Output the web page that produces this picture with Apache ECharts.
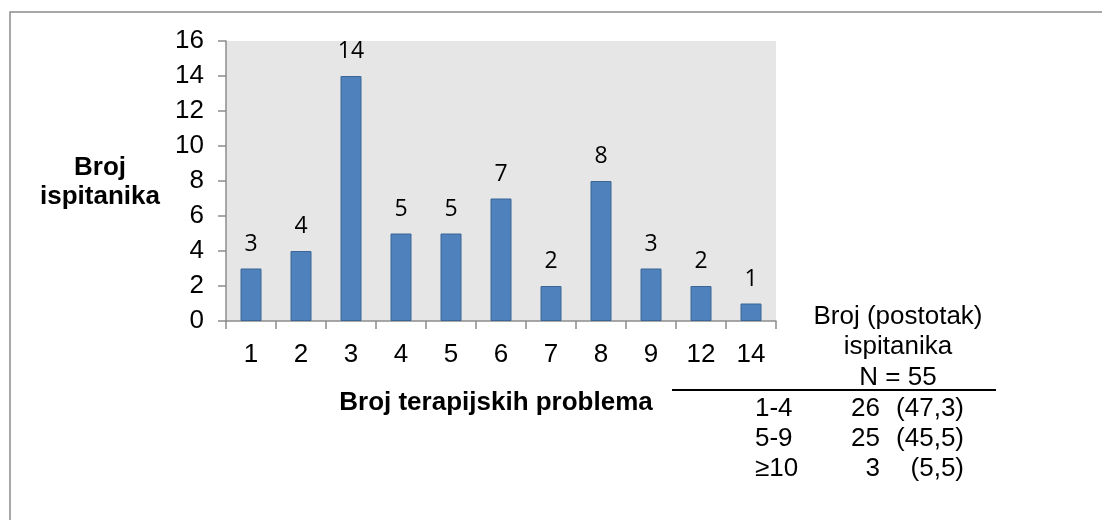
<!DOCTYPE html>
<html lang="hr">
<head>
<meta charset="UTF-8">
<title>Broj terapijskih problema</title>
<script src="https://cdn.jsdelivr.net/npm/echarts@6/dist/echarts.min.js"></script>
<style>
  html, body { margin: 0; padding: 0; background: #fff; }
  #chart { width: 1102px; height: 520px; }
</style>
</head>
<body>
<div id="chart"></div>
<script>
    // broj terapijskih problema po ispitaniku
    var categories = ['1', '2', '3', '4', '5', '6', '7', '8', '9', '12', '14'];
    var counts = [3, 4, 14, 5, 5, 7, 2, 8, 3, 2, 1];

    // mala tablica desno
    var tableRanges = ['1-4', '5-9', '≥10'];
    var tableCounts = ['26', '25', '3'];
    var tablePercents = ['(47,3)', '(45,5)', '(5,5)'];

    var txt = '#000';
    var font = 'Arial, "Liberation Sans", sans-serif';
    var fs = 26;

    // tekst centriran okomito oko y
    function label(text, x, y, align, bold) {
        return { type: 'text', x: x, y: y, silent: true,
                 style: { text: text, font: (bold ? 'bold ' : '') + fs + 'px ' + font, fill: txt,
                          align: align, verticalAlign: 'middle' } };
    }

    var graphics = [
        // okvir
        { type: 'rect', shape: { x: 10, y: 12, width: 1200, height: 600 },
          style: { fill: 'none', stroke: '#8c8c8c', lineWidth: 1.5 }, silent: true },
        // naslov osi y
        label('Broj', 100, 168, 'center', true),
        label('ispitanika', 100, 197, 'center', true),
        // naslov osi x
        label('Broj terapijskih problema', 496, 403, 'center', true),
        // naslov tablice
        label('Broj (postotak)', 898, 317, 'center'),
        label('ispitanika', 898, 347, 'center'),
        label('N = 55', 898, 378, 'center'),
        { type: 'line', shape: { x1: 672, y1: 390, x2: 996, y2: 390 },
          style: { stroke: '#000', lineWidth: 2 } }
    ];

    tableRanges.forEach(function (r, i) {
        var y = 409 + i * 30;
        graphics.push(label(r, 755, y, 'left'));
        graphics.push(label(tableCounts[i], 880, y, 'right'));
        graphics.push(label(tablePercents[i], 964, y, 'right'));
    });

    var mCharts = echarts.init(document.getElementById('chart'));
    var option = {
        animation: false,
        grid: {
            left: 226, top: 41, width: 550, height: 280,
            show: true, backgroundColor: '#e6e6e6', borderWidth: 0
        },
        xAxis: {
            type: 'category',
            data: categories,
            axisLine: { lineStyle: { color: '#8c8c8c', width: 1.5 } },
            axisTick: { show: true, length: 8, alignWithLabel: false, lineStyle: { color: '#8c8c8c', width: 1.5 } },
            axisLabel: { fontFamily: font, fontSize: fs, color: txt, margin: 21 }
        },
        yAxis: {
            type: 'value',
            min: 0, max: 16, interval: 2,
            axisLine: { show: true, lineStyle: { color: '#8c8c8c', width: 1.5 } },
            axisTick: { show: true, length: 8, lineStyle: { color: '#8c8c8c', width: 1.5 } },
            splitLine: { show: false },
            axisLabel: { fontFamily: font, fontSize: fs, color: txt, margin: 22 }
        },
        series: [{
            type: 'bar',
            data: counts,
            barWidth: 21,
            itemStyle: { color: '#4f81bd', borderColor: '#3b6796', borderWidth: 1 },
            label: {
                show: true, position: 'top', distance: 13,
                fontFamily: '"Open Sans", sans-serif', fontSize: 23, color: txt
            }
        }],
        graphic: graphics
    };
    mCharts.setOption(option);
</script>
</body>
</html>
